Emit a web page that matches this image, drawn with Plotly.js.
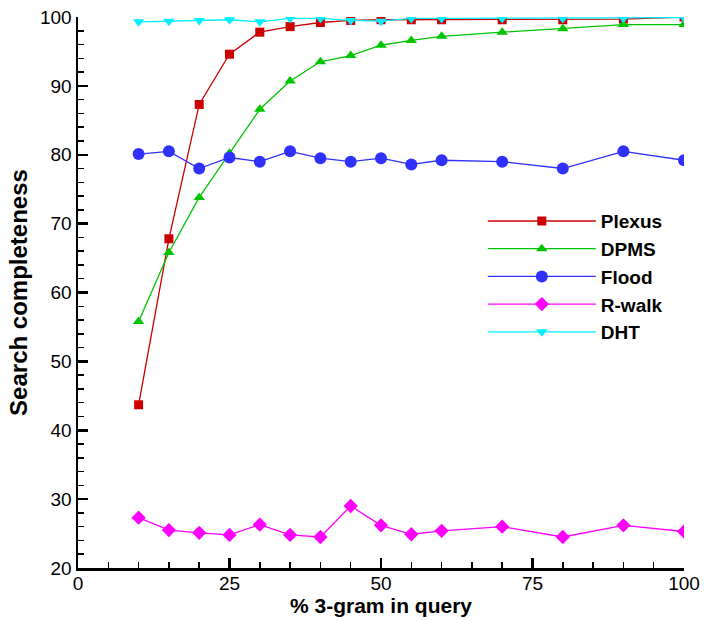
<!DOCTYPE html>
<html>
<head>
<meta charset="utf-8">
<script src="https://cdn.plot.ly/plotly-3.0.1.min.js"></script>
<style>html,body{margin:0;padding:0;background:#fff;}#chart{width:704px;height:621px;}</style>
</head>
<body>
<div id="chart"></div>
<script>
var xPct = [10, 15, 20, 25, 30, 35, 40, 45, 50, 55, 60, 70, 80, 90, 100];
var plexus = [43.7, 67.8, 87.3, 94.6, 97.8, 98.6, 99.2, 99.5, 99.6, 99.6, 99.6, 99.6, 99.6, 99.7, 100.0];
var dpms   = [55.8, 65.8, 73.8, 80.2, 86.6, 90.7, 93.5, 94.4, 95.9, 96.6, 97.2, 97.8, 98.3, 98.9, 98.9];
var flood  = [80.1, 80.5, 78.0, 79.6, 79.0, 80.5, 79.5, 79.0, 79.5, 78.6, 79.2, 79.0, 78.0, 80.5, 79.2];
var rwalk  = [27.3, 25.5, 25.1, 24.8, 26.3, 24.8, 24.5, 29.0, 26.2, 24.9, 25.4, 26.0, 24.5, 26.2, 25.3];
var dht    = [99.3, 99.4, 99.5, 99.6, 99.3, 99.8, 99.8, 99.5, 99.4, 99.8, 99.8, 99.8, 99.8, 99.8, 99.9];
var seriesNames = ["Plexus", "DPMS", "Flood", "R-walk", "DHT"];
var xTickVals = [0, 25, 50, 75, 100];
var yTickVals = [20, 30, 40, 50, 60, 70, 80, 90, 100];

function tr(y, name, color, symbol, size) {
  return {
    x: xPct, y: y, name: name, type: 'scatter', mode: 'lines+markers',
    line: {color: color, width: 1.3},
    marker: {color: color, symbol: symbol, size: size}
  };
}
var data = [
  tr(plexus, seriesNames[0], '#cc0000', 'square', 9),
  tr(dpms, seriesNames[1], '#00c400', 'triangle-up', 10),
  tr(flood, seriesNames[2], '#3030ff', 'circle', 12),
  tr(rwalk, seriesNames[3], '#ff00ff', 'diamond', 11),
  tr(dht, seriesNames[4], '#00f0ff', 'triangle-down', 10)
];
var font = "'Liberation Sans', Arial, sans-serif";
var layout = {
  width: 704, height: 621,
  margin: {l: 78, r: 20, t: 17, b: 53},
  paper_bgcolor: '#fff', plot_bgcolor: '#fff',
  showlegend: true,
  legend: {
    x: 0.668, y: 0.664, xanchor: 'left', yanchor: 'top',
    font: {family: font, size: 19, color: '#000', weight: 'bold'},
    bgcolor: 'rgba(0,0,0,0)', tracegroupgap: 0, itemwidth: 108
  },
  xaxis: {
    range: [0, 100], tickvals: xTickVals, ticktext: xTickVals.map(String),
    ticks: 'inside', ticklen: 10, tickwidth: 2.5, tickcolor: '#000',
    minor: {dtick: 5, ticks: 'inside', ticklen: 6, tickwidth: 1.5, tickcolor: '#000', showgrid: false},
    showline: true, linewidth: 2.5, linecolor: '#000', showgrid: false, zeroline: false,
    tickfont: {family: font, size: 19, color: '#000'}, ticklabelstandoff: -3,
    title: {text: '% 3-gram in query', font: {family: font, size: 21, color: '#000', weight: 'bold'}, standoff: 4}
  },
  yaxis: {
    range: [20, 100], tickvals: yTickVals, ticktext: yTickVals.map(String),
    ticks: 'inside', ticklen: 10, tickwidth: 2.5, tickcolor: '#000',
    minor: {dtick: 2, ticks: 'inside', ticklen: 6, tickwidth: 1.5, tickcolor: '#000', showgrid: false},
    showline: true, linewidth: 2.5, linecolor: '#000', showgrid: false, zeroline: false,
    tickfont: {family: font, size: 19, color: '#000'},
    title: {text: 'Search completeness', font: {family: font, size: 24, color: '#000', weight: 'bold'}, standoff: 6}
  }
};
Plotly.newPlot('chart', data, layout, {displayModeBar: false, staticPlot: true});
</script>
</body>
</html>
